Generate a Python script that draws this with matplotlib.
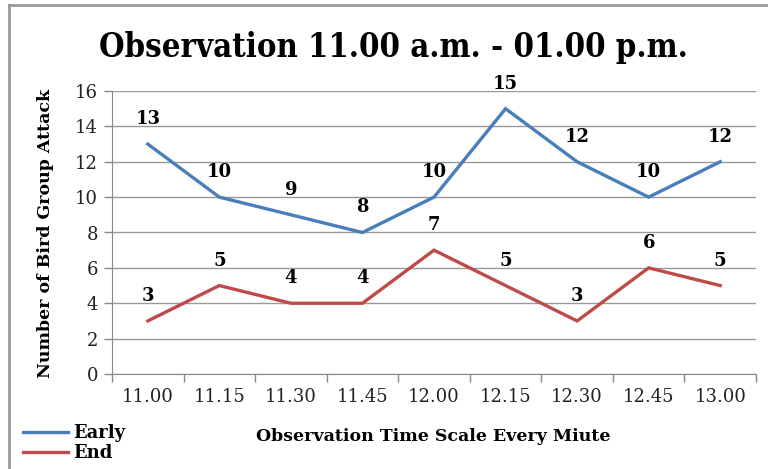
import matplotlib
matplotlib.use("Agg")
import matplotlib.pyplot as plt
from matplotlib.lines import Line2D

categories = ["11.00", "11.15", "11.30", "11.45", "12.00", "12.15", "12.30", "12.45", "13.00"]
early = [13, 10, 9, 8, 10, 15, 12, 10, 12]
end = [3, 5, 4, 4, 7, 5, 3, 6, 5]
yticks = [0, 2, 4, 6, 8, 10, 12, 14, 16]

title = "Observation 11.00 a.m. - 01.00 p.m."
xlabel = "Observation Time Scale Every Miute"
ylabel = "Number of Bird Group Attack"

serif = "DejaVu Serif"
blue = "#4A7EBB"
red = "#BE4B48"
gray = "#888888"

fig = plt.figure(figsize=(7.68, 4.69), dpi=100)
ax = fig.add_axes([112/768, 1-374/469, (756-112)/768, (374-91)/469])

x = list(range(len(categories)))
ax.plot(x, early, color=blue, lw=2.4, label="Early", solid_joinstyle="miter")
ax.plot(x, end, color=red, lw=2.4, label="End", solid_joinstyle="miter")

for xi, v in zip(x, early):
    ax.annotate(str(v), (xi, v), xytext=(0, 18), textcoords="offset points",
                ha="center", va="center", fontsize=13, fontweight="bold", family=serif)
for xi, v in zip(x, end):
    ax.annotate(str(v), (xi, v), xytext=(0, 18), textcoords="offset points",
                ha="center", va="center", fontsize=13, fontweight="bold", family=serif)

ax.set_xlim(-0.5, len(categories) - 0.5)
ax.set_ylim(0, 16)
ax.set_yticks(yticks)
ax.set_yticklabels([str(t) for t in yticks], family=serif, fontsize=13, color="#222222")
ax.set_xticks(x)
ax.set_xticklabels(categories, family=serif, fontsize=13, color="#222222")
ax.tick_params(axis="x", length=0, pad=10)
ax.set_xticks([i - 0.5 for i in range(len(categories) + 1)], minor=True)
ax.tick_params(axis="x", which="minor", length=6, color=gray, width=1)
ax.tick_params(axis="y", length=6, color=gray, width=1, pad=4)

ax.grid(axis="y", color="#999999", lw=1)
ax.set_axisbelow(True)
for s in ["top", "right"]:
    ax.spines[s].set_visible(False)
ax.spines["left"].set_color(gray)
ax.spines["bottom"].set_color(gray)

fig.text(393/768, 1-47/469, title, ha="center", va="center", fontsize=23.5,
         fontweight="bold", family=serif, stretch="condensed")
fig.text(433/768, 1-436/469, xlabel, ha="center", va="center", fontsize=12.5,
         fontweight="bold", family=serif)
fig.text(46/768, 1-233/469, ylabel, ha="center", va="center", fontsize=12.5,
         fontweight="bold", family=serif, rotation=90)

handles = [Line2D([], [], color=blue, lw=2.4), Line2D([], [], color=red, lw=2.4)]
leg = fig.legend(handles, ["Early", "End"], loc="upper left",
                 bbox_to_anchor=(14/768, 1-415/469), frameon=False,
                 prop={"family": serif, "weight": "bold", "size": 13},
                 handlelength=2.5, handletextpad=0.3, labelspacing=0.1, borderpad=0)

fig.add_artist(Line2D([9/768, 1], [1-5/469, 1-5/469], transform=fig.transFigure, color="#999999", lw=2))
fig.add_artist(Line2D([9/768, 9/768], [0, 1-5/469], transform=fig.transFigure, color="#999999", lw=2))

fig.savefig("out.png", dpi=100)
